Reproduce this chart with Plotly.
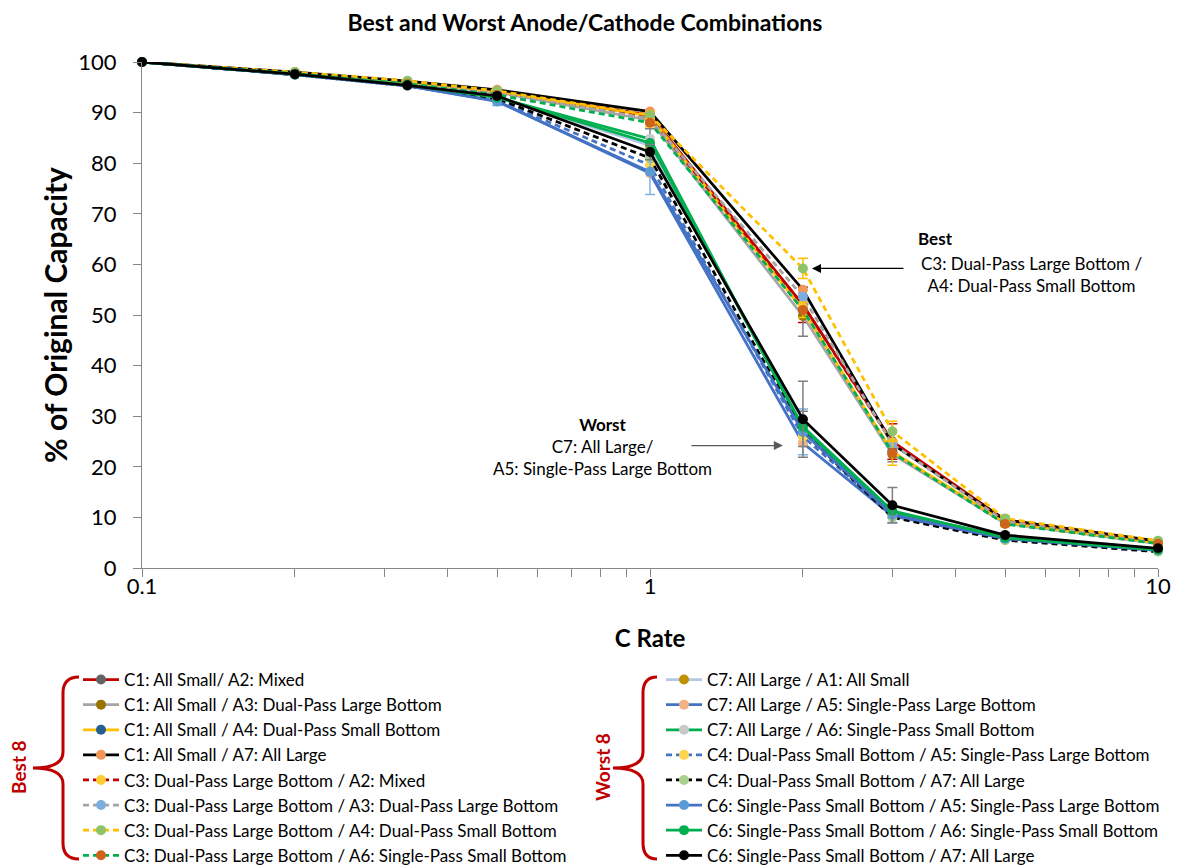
import plotly.graph_objects as go
import math

# ---------------- data ----------------
c_rate = [0.1, 0.2, 0.333, 0.5, 1, 2, 3, 5, 10]

best_names = [
    "C1: All Small/ A2: Mixed",
    "C1: All Small / A3: Dual-Pass Large Bottom",
    "C1: All Small / A4: Dual-Pass Small Bottom",
    "C1: All Small / A7: All Large",
    "C3: Dual-Pass Large Bottom / A2: Mixed",
    "C3: Dual-Pass Large Bottom / A3: Dual-Pass Large Bottom",
    "C3: Dual-Pass Large Bottom / A4: Dual-Pass Small Bottom",
    "C3: Dual-Pass Large Bottom / A6: Single-Pass Small Bottom",
]
worst_names = [
    "C7: All Large / A1: All Small",
    "C7: All Large / A5: Single-Pass Large Bottom",
    "C7: All Large / A6: Single-Pass Small Bottom",
    "C4: Dual-Pass Small Bottom / A5: Single-Pass Large Bottom",
    "C4: Dual-Pass Small Bottom / A7: All Large",
    "C6: Single-Pass Small Bottom / A5: Single-Pass Large Bottom",
    "C6: Single-Pass Small Bottom / A6: Single-Pass Small Bottom",
    "C6: Single-Pass Small Bottom / A7: All Large",
]

c1_a2 = [100, 97.8, 96.0, 94.2, 89.5, 52.0, 25.0, 9.5, 5.2]
c1_a3 = [100, 97.7, 95.8, 94.0, 88.5, 49.8, 22.5, 8.8, 4.8]
c1_a4 = [100, 97.8, 96.0, 94.2, 89.3, 51.0, 23.0, 9.0, 5.0]
c1_a7 = [100, 98.0, 96.2, 94.5, 90.2, 55.0, 24.5, 9.5, 5.3]
c3_a2 = [100, 97.9, 96.0, 94.0, 89.0, 52.0, 24.8, 9.3, 5.1]
c3_a3 = [100, 97.8, 95.9, 94.0, 88.8, 53.6, 24.5, 9.2, 5.0]
c3_a4 = [100, 98.0, 96.3, 94.3, 89.5, 59.2, 27.0, 9.8, 5.4]
c3_a6 = [100, 97.7, 95.7, 93.5, 88.0, 51.0, 22.8, 8.7, 4.8]

c7_a1 = [100, 97.6, 95.5, 93.0, 83.5, 28.0, 11.0, 6.2, 3.8]
c7_a5 = [100, 97.5, 95.3, 92.3, 78.0, 24.7, 10.3, 5.8, 3.5]
c7_a6 = [100, 97.6, 95.5, 93.0, 84.8, 27.5, 11.0, 6.2, 3.8]
c4_a5 = [100, 97.5, 95.3, 92.5, 79.6, 26.0, 10.5, 5.8, 3.5]
c4_a7 = [100, 97.5, 95.3, 92.8, 81.0, 27.0, 10.0, 5.5, 3.2]
c6_a5 = [100, 97.5, 95.3, 92.2, 78.3, 26.9, 10.5, 5.8, 3.5]
c6_a6 = [100, 97.6, 95.5, 93.0, 84.0, 27.9, 11.3, 6.0, 3.6]
c6_a7 = [100, 97.6, 95.4, 93.3, 82.2, 29.4, 12.4, 6.5, 3.9]

# error bars (± values)
err_c1_a2 = [0, 0, 0, 0, 0.8, 3.5, 3.5, 0.5, 0]
err_c1_a3 = [0, 0, 0, 0, 0.8, 4.0, 1.5, 0.5, 0]
err_c3_a4 = [0, 0, 0, 0.5, 0.8, 2.0, 2.0, 0.5, 0]
err_c3_a6 = [0, 0, 0, 0, 0.8, 1.5, 2.5, 0.5, 0]
err_c6_a5 = [0, 0, 0, 0.8, 4.5, 4.5, 1.5, 0.5, 0]
err_c6_a7 = [0, 0, 0, 0.5, 1.5, 7.5, 3.5, 0.5, 0]
err_c7_a6 = [0, 0, 0, 0.5, 2.0, 3.5, 1.0, 0.3, 0]

tick_x = [0.1, 1, 10]
tick_x_text = ["0.1", "1", "10"]
minor_x = [0.2, 0.3, 0.4, 0.5, 0.6, 0.7, 0.8, 0.9, 2, 3, 4, 5, 6, 7, 8, 9]
tick_y = [0, 10, 20, 30, 40, 50, 60, 70, 80, 90, 100]

best_values = [c1_a2, c1_a3, c1_a4, c1_a7, c3_a2, c3_a3, c3_a4, c3_a6]
worst_values = [c7_a1, c7_a5, c7_a6, c4_a5, c4_a7, c6_a5, c6_a6, c6_a7]
best_errs = [err_c1_a2, err_c1_a3, None, None, None, None, err_c3_a4, err_c3_a6]
worst_errs = [None, None, err_c7_a6, None, None, err_c6_a5, None, err_c6_a7]

# ---------------- styles ----------------
best_line = ["#C00000", "#A5A5A5", "#FFC000", "#000000", "#C00000", "#A5A5A5", "#FFC000", "#00B050"]
best_marker = ["#636363", "#997300", "#255E91", "#F1975A", "#FFCD33", "#7CAFDD", "#8FC36A", "#D0631A"]
best_dash = ["solid"] * 4 + ["6px,4px"] * 4
best_errc = ["#C00000", "#7F7F7F", "#FFC000", "#FFC000", "#C00000", "#7F7F7F", "#FFC000", "#FFC000"]

worst_line = ["#B4C7E7", "#4472C4", "#00B050", "#4472C4", "#000000", "#4472C4", "#00B050", "#000000"]
worst_marker = ["#BF9000", "#F4B183", "#C9C9C9", "#FFD54F", "#A9D18E", "#5B9BD5", "#00B050", "#000000"]
worst_dash = ["solid"] * 3 + ["6px,4px"] * 2 + ["solid"] * 3
worst_errc = ["#7F7F7F", "#7F7F7F", "#7F7F7F", "#7F7F7F", "#7F7F7F", "#7FB2E0", "#7F7F7F", "#7F7F7F"]

FONT = "Lato"
OFF = 8  # page body margin
W, H = 1181, 859
L, R, T, B = 134, 31, 54, 299
PW, PH = W - L - R, H - T - B


def px(x):
    """reference-window pixel x -> paper"""
    return (x - OFF - L) / PW


def py(y):
    """reference-window pixel y -> paper"""
    return (H - B - (y - OFF)) / PH


fig = go.Figure()


def add(name, vals, lc, mc, dash, err, errc, legend):
    kw = {}
    if err is not None:
        kw["error_y"] = dict(type="data", array=err, visible=True, color=errc,
                             thickness=1.5, width=5)
    fig.add_trace(go.Scatter(
        x=c_rate, y=vals, name=name, mode="lines+markers",
        line=dict(color=lc, width=2.75, dash=dash),
        marker=dict(color=mc, size=10, line=dict(width=0)),
        legend=legend, cliponaxis=False, **kw))


for i in range(8):
    add(best_names[i], best_values[i], best_line[i], best_marker[i], best_dash[i],
        best_errs[i], best_errc[i], "legend")
for i in range(8):
    add(worst_names[i], worst_values[i], worst_line[i], worst_marker[i], worst_dash[i],
        worst_errs[i], worst_errc[i], "legend2")

axis_col = "#868686"

fig.update_layout(
    width=W, height=H,
    margin=dict(l=L, r=R, t=T, b=B, autoexpand=False),
    paper_bgcolor="white", plot_bgcolor="white",
    font=dict(family=FONT, color="#000000"),
    title=dict(text="<b>Best and Worst Anode/Cathode Combinations</b>",
               x=(585 - OFF) / W, xanchor="center", y=1 - (23 - OFF) / H, yanchor="middle",
               font=dict(size=23, family=FONT)),
    showlegend=True,
    legend=dict(x=px(78), xanchor="left", y=py(662), yanchor="top",
                font=dict(size=17, family=FONT), bgcolor="rgba(0,0,0,0)",
                tracegroupgap=0, itemwidth=36),
    legend2=dict(x=px(661), xanchor="left", y=py(662), yanchor="top",
                 font=dict(size=17, family=FONT), bgcolor="rgba(0,0,0,0)",
                 tracegroupgap=0, itemwidth=36),
    xaxis=dict(type="log", range=[-1, 1], tickvals=tick_x, ticktext=tick_x_text,
               ticks="outside", ticklen=8, tickcolor=axis_col, showline=True,
               linecolor=axis_col, linewidth=1, showgrid=False, zeroline=False,
               tickfont=dict(size=22, family=FONT), ticklabelstandoff=-9,
               minor=dict(tickvals=minor_x, ticks="outside", ticklen=8,
                          tickcolor=axis_col, showgrid=False),
               title=dict(text="<b>C Rate</b>", font=dict(size=24, family=FONT),
                          standoff=31)),
    yaxis=dict(range=[0, 100], tickvals=tick_y, ticks="outside", ticklen=8,
               tickcolor=axis_col, showline=True, linecolor=axis_col, linewidth=1,
               showgrid=False, zeroline=False, ticklabelstandoff=12,
               tickfont=dict(size=22, family=FONT),
               title=dict(text="<b>% of Original Capacity</b>",
                          font=dict(size=30, family=FONT), standoff=1)),
)


# ---------- annotations ----------
def ann(x, y, text, size=17, **kw):
    fig.add_annotation(x=px(x), y=py(y), xref="paper", yref="paper", text=text,
                       showarrow=False, xanchor="center", yanchor="middle",
                       font=dict(size=size, family=FONT, color="#000"), **kw)


ann(935, 238, "<b>Best</b>")
ann(1031, 274, "C3: Dual-Pass Large Bottom /<br>A4: Dual-Pass Small Bottom", align="center")
ann(602, 446, "<b>Worst</b><br>C7: All Large/<br>A5: Single-Pass Large Bottom", align="center")

# arrows pointing at chart points
fig.add_annotation(x=math.log10(2), y=c3_a4[5], xref="x", yref="y", text="",
                   showarrow=True, ax=102, ay=0, arrowhead=2, arrowsize=1.4,
                   arrowwidth=1.3, arrowcolor="#000000", standoff=9)
fig.add_annotation(x=math.log10(2), y=24.2, xref="x", yref="y", text="",
                   showarrow=True, ax=-113, ay=0, arrowhead=2, arrowsize=1.4,
                   arrowwidth=1.3, arrowcolor="#595959", standoff=20)


# ---------- brackets ----------
def brace(xr, xs, xt, ytop, ymid, ybot):
    r = 16
    d = (f"M{px(xr)},{py(ytop)} Q{px(xs)},{py(ytop)} {px(xs)},{py(ytop + r)} "
         f"L{px(xs)},{py(ymid - r)} Q{px(xs)},{py(ymid)} {px(xt)},{py(ymid)} "
         f"Q{px(xs)},{py(ymid)} {px(xs)},{py(ymid + r)} "
         f"L{px(xs)},{py(ybot - r)} Q{px(xs)},{py(ybot)} {px(xr)},{py(ybot)}")
    fig.add_shape(type="path", path=d, xref="paper", yref="paper",
                  line=dict(color="#C00000", width=3))


brace(79, 63, 33, 677, 768, 859)
brace(657, 643, 613, 677, 768, 859)

fig.add_annotation(x=px(18), y=py(767), xref="paper", yref="paper", text="<b>Best 8</b>",
                   textangle=-90, showarrow=False, xanchor="center", yanchor="middle",
                   font=dict(size=19, family=FONT, color="#C00000"))
fig.add_annotation(x=px(602), y=py(767), xref="paper", yref="paper", text="<b>Worst 8</b>",
                   textangle=-90, showarrow=False, xanchor="center", yanchor="middle",
                   font=dict(size=19, family=FONT, color="#C00000"))

fig.write_html("out.html")
